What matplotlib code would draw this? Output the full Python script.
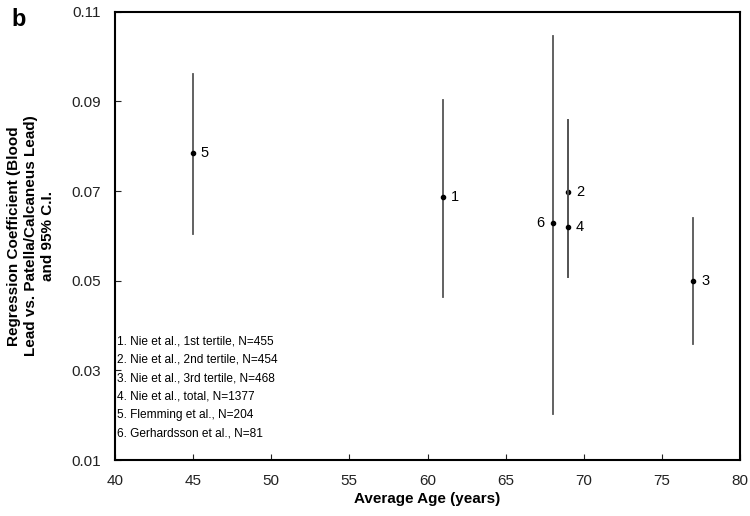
import matplotlib.pyplot as plt
import numpy as np

plt.rcParams['font.family'] = ['Liberation Sans', 'DejaVu Sans']

# study data: age, coefficient, lower and upper 95% CI
labels = ['1', '2', '3', '4', '5', '6']
age = [61, 69, 77, 69, 45, 68]
coef = [0.0687, 0.0698, 0.0500, 0.0620, 0.0785, 0.0629]
ci_low = [0.0464, 0.0508, 0.0359, 0.0508, 0.0604, 0.0203]
ci_high = [0.0904, 0.0859, 0.0640, 0.0859, 0.0962, 0.1046]
legend_lines = [
    "1. Nie et al., 1st tertile, N=455",
    "2. Nie et al., 2nd tertile, N=454",
    "3. Nie et al., 3rd tertile, N=468",
    "4. Nie et al., total, N=1377",
    "5. Flemming et al., N=204",
    "6. Gerhardsson et al., N=81",
]

fig = plt.figure(figsize=(7.5, 5.16), dpi=100)
ax = fig.add_axes([0.153, 0.1085, 0.834, 0.8685])

for i in range(len(labels)):
    ax.plot([age[i], age[i]], [ci_low[i], ci_high[i]], color='#555555', lw=1.3)
    ax.plot(age[i], coef[i], 'o', color='black', ms=3)
    if labels[i] == '6':
        ax.text(age[i] - 0.5, coef[i], labels[i], ha='right', va='center', fontsize=10.5)
    else:
        ax.text(age[i] + 0.5, coef[i], labels[i], ha='left', va='center', fontsize=10.5)

ax.set_xlim(40, 80)
ax.set_ylim(0.01, 0.11)
ax.set_xticks(np.arange(40, 81, 5))
ax.set_yticks([0.01, 0.03, 0.05, 0.07, 0.09, 0.11])
ax.set_yticklabels(['0.01', '0.03', '0.05', '0.07', '0.09', '0.11'])
ax.tick_params(direction='in', length=4, labelsize=11, colors='#222222')
ax.tick_params(axis='x', pad=10)
ax.tick_params(axis='y', pad=10)
for s in ax.spines.values():
    s.set_linewidth(1.5)

ax.set_xlabel('Average Age (years)', fontsize=11, fontweight='bold', labelpad=3)
ax.set_ylabel('Regression Coefficient (Blood\nLead vs. Patella/Calcaneus Lead)\nand 95% C.I.',
              fontsize=11, fontweight='bold', labelpad=12, linespacing=1.25)

ax.text(0.003, 0.045, "\n".join(legend_lines), transform=ax.transAxes,
        ha='left', va='bottom', fontsize=8.6, linespacing=1.72)

fig.text(0.015, 0.985, 'b', fontsize=17, fontweight='bold', va='top')

fig.savefig('out.png', dpi=100)
